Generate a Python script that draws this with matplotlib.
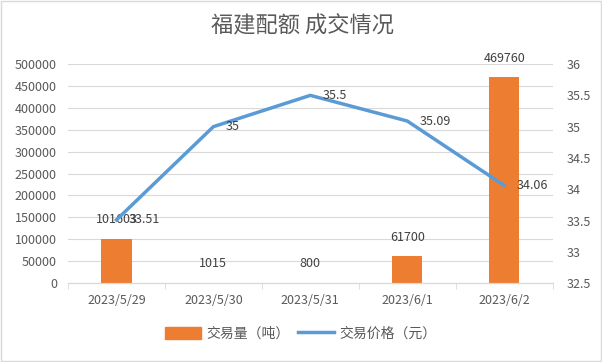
import numpy as np
import matplotlib.pyplot as plt
from matplotlib.lines import Line2D
from matplotlib.patches import Patch

plt.rcParams['font.family'] = ['Noto Sans CJK SC', 'DejaVu Sans']

dates = ["2023/5/29", "2023/5/30", "2023/5/31", "2023/6/1", "2023/6/2"]
volume = [101603, 1015, 800, 61700, 469760]
price = [33.51, 35, 35.5, 35.09, 34.06]

orange = "#ED7D31"
blue = "#5B9BD5"
txt = "#595959"

fig = plt.figure(figsize=(6.02, 3.62), dpi=100)
ax = fig.add_axes([0.113, 0.218, 0.805, 0.605])
ax2 = ax.twinx()

x = np.arange(len(dates))
ax.bar(x, volume, width=0.31, color=orange, zorder=2)
ax2.plot(x, price, color=blue, linewidth=2.5, zorder=3)

ax.set_xlim(-0.5, len(dates) - 0.5)
ax.set_ylim(0, 500000)
ax.set_yticks(np.arange(0, 500001, 50000))
ax2.set_ylim(32.5, 36)
ax2.set_yticks(np.arange(32.5, 36.01, 0.5))
ax2.set_yticklabels([f"{v:g}" for v in np.arange(32.5, 36.01, 0.5)])

ax.set_xticks(x)
ax.set_xticklabels(dates)
ax.set_xticks(np.arange(-0.5, len(dates)), minor=True)
ax.tick_params(axis='x', which='major', length=0, pad=8, labelsize=9, colors=txt)
ax.tick_params(axis='x', which='minor', length=4, color="#D9D9D9")
ax.tick_params(axis='y', length=0, pad=8, labelsize=9, colors=txt)
ax2.tick_params(axis='y', length=0, pad=10, labelsize=9, colors=txt)

ax.grid(axis='y', color="#D9D9D9", linewidth=0.8, zorder=0)
ax.set_axisbelow(True)
for a in (ax, ax2):
    for s in ('top', 'left', 'right'):
        a.spines[s].set_visible(False)
    a.spines['bottom'].set_color("#D9D9D9")

for xi, v in zip(x, volume):
    ax.annotate(str(v), (xi, v), xytext=(0, 9), textcoords='offset points',
                ha='center', va='bottom', fontsize=9, color="#404040")
for xi, p in zip(x, price):
    ax2.annotate(f"{p:g}", (xi, p), xytext=(9, 0), textcoords='offset points',
                 ha='left', va='center', fontsize=9, color="#404040")

fig.suptitle("福建配额 成交情况", x=0.503, y=0.96, fontsize=16, color=txt,
             fontweight='light')

handles = [Patch(color=orange), Line2D([0], [0], color=blue, linewidth=2.5)]
fig.legend(handles, ["交易量（吨）", "交易价格（元）"], loc='center', ncol=2,
           bbox_to_anchor=(0.5, 0.078), frameon=False, fontsize=10,
           labelcolor=txt, handlelength=2.6, handleheight=0.9,
           columnspacing=0.6, handletextpad=0.4)

fig.patches.append(plt.Rectangle((0.002, 0.003), 0.996, 0.994, transform=fig.transFigure,
                                 fill=False, edgecolor="#D9D9D9", linewidth=1))

fig.savefig("out.png", dpi=100)
